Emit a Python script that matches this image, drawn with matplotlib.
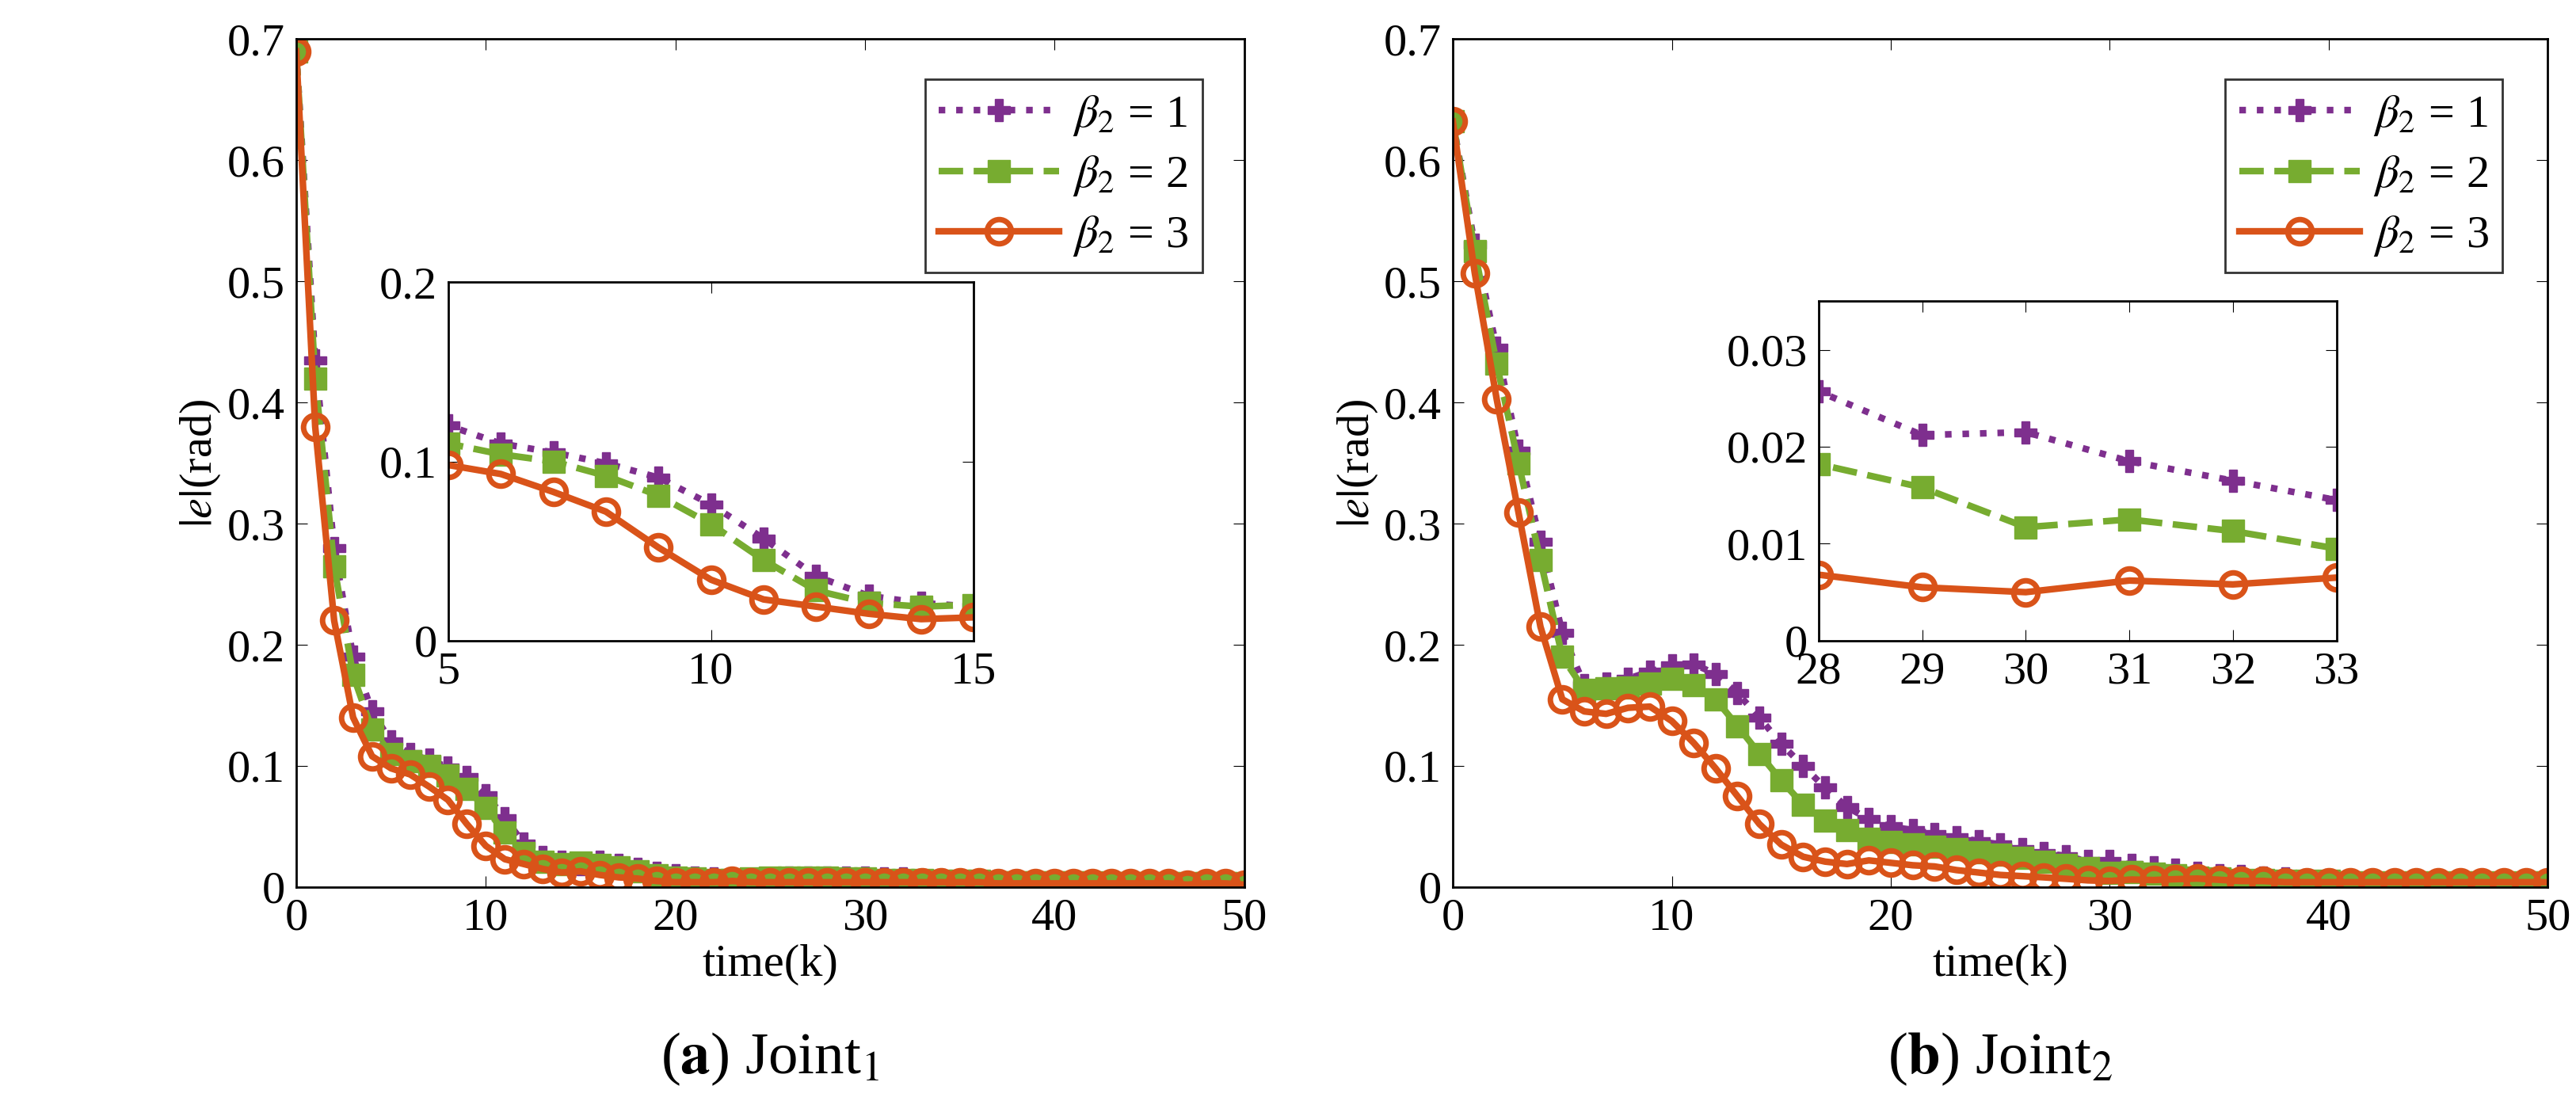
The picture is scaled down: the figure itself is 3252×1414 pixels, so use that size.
import numpy as np
import matplotlib.pyplot as plt

plt.rcParams["font.family"] = "Liberation Serif"
plt.rcParams["mathtext.fontset"] = "stix"

k = np.arange(51)

# ---- Joint 1 ----
j1_b1 = [0.690, 0.435, 0.280, 0.190, 0.145, 0.120, 0.110, 0.105, 0.099, 0.091,
         0.076, 0.057, 0.036, 0.025, 0.021, 0.019, 0.021, 0.018, 0.015, 0.012,
         0.010, 0.008, 0.007, 0.006, 0.006, 0.007, 0.008, 0.008, 0.008, 0.008,
         0.008, 0.007, 0.007, 0.006, 0.006, 0.005, 0.005, 0.005, 0.005, 0.004,
         0.004, 0.004, 0.004, 0.004, 0.004, 0.003, 0.003, 0.003, 0.003, 0.003, 0.003]
j1_b2 = [0.690, 0.420, 0.265, 0.175, 0.130, 0.110, 0.104, 0.100, 0.092, 0.081,
         0.065, 0.045, 0.028, 0.021, 0.019, 0.020, 0.018, 0.016, 0.013, 0.010,
         0.008, 0.007, 0.006, 0.006, 0.007, 0.008, 0.008, 0.008, 0.008, 0.007,
         0.007, 0.006, 0.006, 0.006, 0.005, 0.005, 0.005, 0.004, 0.004, 0.004,
         0.004, 0.004, 0.004, 0.003, 0.003, 0.003, 0.003, 0.003, 0.003, 0.003, 0.003]
j1_b3 = [0.690, 0.380, 0.220, 0.140, 0.108, 0.098, 0.093, 0.083, 0.072, 0.052,
         0.034, 0.023, 0.019, 0.015, 0.012, 0.013, 0.010, 0.008, 0.007, 0.005,
         0.004, 0.004, 0.004, 0.005, 0.004, 0.004, 0.004, 0.004, 0.004, 0.004,
         0.004, 0.004, 0.004, 0.004, 0.004, 0.004, 0.004, 0.003, 0.003, 0.003,
         0.003, 0.003, 0.003, 0.003, 0.003, 0.003, 0.003, 0.002, 0.003, 0.003, 0.002]

# ---- Joint 2 ----
j2_b1 = [0.632, 0.530, 0.445, 0.360, 0.285, 0.210, 0.167, 0.168, 0.172, 0.178,
         0.183, 0.184, 0.176, 0.160, 0.140, 0.118, 0.100, 0.082, 0.066, 0.056,
         0.050, 0.047, 0.044, 0.041, 0.038, 0.035, 0.031, 0.028, 0.0257, 0.0212,
         0.0215, 0.0185, 0.0165, 0.0145, 0.012, 0.010, 0.009, 0.008, 0.007, 0.006,
         0.006, 0.005, 0.005, 0.005, 0.004, 0.004, 0.004, 0.004, 0.004, 0.004, 0.004]
j2_b2 = [0.632, 0.525, 0.432, 0.350, 0.270, 0.190, 0.163, 0.164, 0.165, 0.168,
         0.172, 0.167, 0.155, 0.133, 0.110, 0.088, 0.068, 0.055, 0.047, 0.040,
         0.037, 0.035, 0.033, 0.031, 0.029, 0.027, 0.024, 0.021, 0.0182, 0.0158,
         0.0117, 0.0125, 0.0113, 0.0095, 0.008, 0.007, 0.006, 0.006, 0.005, 0.005,
         0.005, 0.004, 0.004, 0.004, 0.004, 0.004, 0.004, 0.004, 0.004, 0.004, 0.004]
j2_b3 = [0.632, 0.507, 0.403, 0.309, 0.215, 0.155, 0.145, 0.143, 0.148, 0.149,
         0.137, 0.119, 0.098, 0.075, 0.052, 0.035, 0.025, 0.021, 0.019, 0.022,
         0.020, 0.018, 0.017, 0.014, 0.012, 0.010, 0.009, 0.008, 0.0068, 0.0055,
         0.0050, 0.0062, 0.0058, 0.0065, 0.007, 0.006, 0.005, 0.005, 0.004, 0.004,
         0.004, 0.004, 0.004, 0.004, 0.004, 0.004, 0.004, 0.004, 0.004, 0.004, 0.004]

labels = [r"$\beta_2$ = 1", r"$\beta_2$ = 2", r"$\beta_2$ = 3"]
colors = ["#7E2F8E", "#77AC30", "#D95319"]
styles = [dict(ls=":", marker="P", ms=20, mfc=colors[0]),
          dict(ls="--", marker="s", ms=20, mfc=colors[1]),
          dict(ls="-", marker="o", ms=22, mfc="none", mew=5)]

FS = 42


def draw(ax, series):
    for y, c, st, lab in zip(series, colors, styles, labels):
        ax.plot(k, y, color=c, lw=6, label=lab, **st)


def style(ax):
    ax.tick_params(direction="in", labelsize=FS, length=10, top=True, right=True, pad=10)
    for s in ax.spines.values():
        s.set_linewidth(2)


fig = plt.figure(figsize=(32.52, 14.14), dpi=100)

panels = [
    ([0.115, 0.208, 0.368, 0.757], [0.174, 0.428, 0.204, 0.320],
     (j1_b1, j1_b2, j1_b3), (5, 15), (0, 0.2), [5, 10, 15], [0, 0.1, 0.2],
     r"($\mathbf{a}$) Joint$_1$"),
    ([0.564, 0.208, 0.425, 0.757], [0.706, 0.428, 0.201, 0.303],
     (j2_b1, j2_b2, j2_b3), (28, 33), (0, 0.035), [28, 29, 30, 31, 32, 33],
     [0, 0.01, 0.02, 0.03], r"($\mathbf{b}$) Joint$_2$"),
]

for rect, irect, series, ixl, iyl, ixt, iyt, cap in panels:
    ax = fig.add_axes(rect)
    draw(ax, series)
    ax.set_xlim(0, 50)
    ax.set_ylim(0, 0.7)
    ax.set_xticks([0, 10, 20, 30, 40, 50])
    ax.set_yticks([0, 0.1, 0.2, 0.3, 0.4, 0.5, 0.6, 0.7])
    ax.set_yticklabels(["0", "0.1", "0.2", "0.3", "0.4", "0.5", "0.6", "0.7"])
    ax.set_xlabel("time(k)", fontsize=FS, labelpad=4)
    ax.set_ylabel(r"$|e|$(rad)", fontsize=FS, labelpad=4)
    style(ax)
    ax.legend(loc="upper right", fontsize=FS, fancybox=False, edgecolor="black",
              handlelength=2.6, borderpad=0.3, labelspacing=0.35,
              handletextpad=0.3, bbox_to_anchor=(0.98, 0.98)).get_frame().set_linewidth(2)
    ax.text(0.5, -0.17, cap, transform=ax.transAxes, ha="center", va="top",
            fontsize=54)

    ins = fig.add_axes(irect)
    draw(ins, series)
    ins.set_xlim(*ixl)
    ins.set_ylim(*iyl)
    ins.set_xticks(ixt)
    ins.set_yticks(iyt)
    ins.set_yticklabels([("%g" % v) for v in iyt])
    style(ins)

fig.savefig("out.png", dpi=100)
